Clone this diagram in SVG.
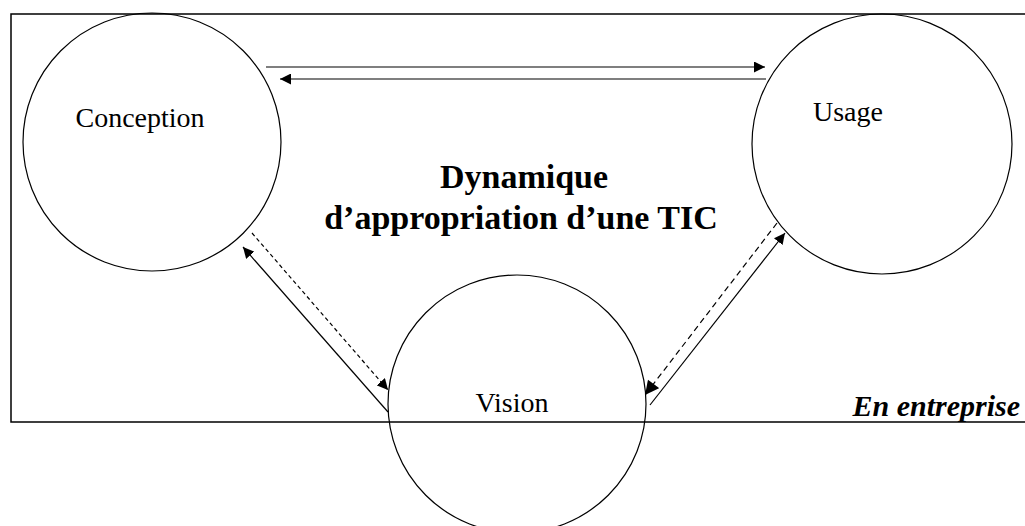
<svg xmlns="http://www.w3.org/2000/svg" width="1025" height="526" viewBox="0 0 1025 526">
<style>
.c{fill:none;stroke:#000;stroke-width:1.2}
.t{font-family:"Liberation Serif","Times New Roman",serif;font-size:28px;fill:#000}
.b{font-family:"Liberation Serif","Times New Roman",serif;font-size:34px;font-weight:bold;fill:#000}
.a{stroke:#000;stroke-width:1.2;fill:none}
</style>
<defs>
<marker id="ah" viewBox="0 0 10 10" refX="10" refY="5" markerWidth="11" markerHeight="11" markerUnits="userSpaceOnUse" orient="auto">
<path d="M0,0 L10,5 L0,10 z" fill="#000"/>
</marker>
<marker id="ahb" viewBox="0 0 10 10" refX="10" refY="5" markerWidth="15" markerHeight="14" markerUnits="userSpaceOnUse" orient="auto">
<path d="M0,0 L10,5 L0,10 z" fill="#000"/>
</marker>
</defs>
<rect width="1025" height="526" fill="#fff"/>
<g id="frame">
<path d="M1026,14 L11,14 L11,422 L1026,422" fill="none" stroke="#000" stroke-width="1.5"/>
<text x="1020" y="416" text-anchor="end" class="b" style="font-style:italic;font-size:30px">En entreprise</text>
</g>
<g id="title">
<text x="524" y="188" text-anchor="middle" class="b">Dynamique</text>
<text x="521" y="229" text-anchor="middle" class="b">d’appropriation d’une TIC</text>
</g>
<g id="conception">
<circle cx="152" cy="142" r="129" class="c"/>
<text x="140" y="127" text-anchor="middle" class="t">Conception</text>
</g>
<g id="usage">
<circle cx="882" cy="144" r="130" class="c"/>
<text x="848" y="121" text-anchor="middle" class="t">Usage</text>
</g>
<g id="vision">
<circle cx="517" cy="404" r="129" class="c"/>
<text x="512" y="412" text-anchor="middle" class="t">Vision</text>
</g>
<g id="connectors">
<line x1="266" y1="67" x2="765" y2="67" class="a" marker-end="url(#ah)"/>
<line x1="766" y1="79" x2="280" y2="79" class="a" marker-end="url(#ah)"/>
<line x1="388" y1="412" x2="243" y2="247" class="a" marker-end="url(#ah)"/>
<line x1="252" y1="233" x2="388" y2="390" class="a" stroke-dasharray="4,3" marker-end="url(#ah)"/>
<line x1="650" y1="405" x2="785" y2="233" class="a" marker-end="url(#ah)"/>
<line x1="777" y1="223" x2="645" y2="395" class="a" stroke-width="1.6" stroke-dasharray="6,4" marker-end="url(#ahb)"/>
</g>
</svg>
